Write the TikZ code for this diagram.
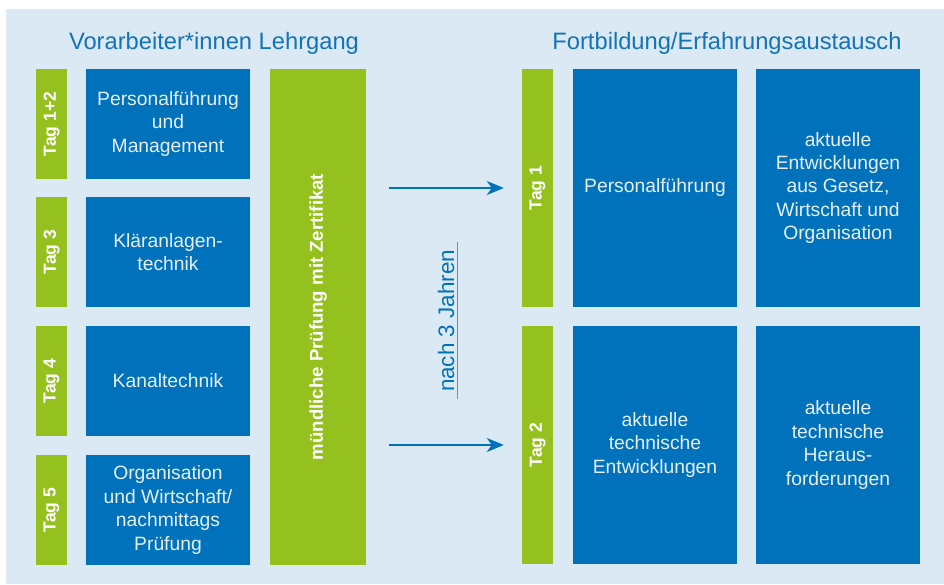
\documentclass[tikz,border=0pt]{standalone}
\usepackage{fontspec}
\setmainfont{Liberation Sans}
\usepackage{graphicx}
\usepackage{xcolor}
\usepackage{tikz}
\usetikzlibrary{arrows.meta}
\definecolor{panel}{HTML}{DAE9F4}
\definecolor{boxblue}{HTML}{0072BB}
\definecolor{daygreen}{HTML}{95C11F}
\definecolor{boxtext}{HTML}{E6EFF8}
\definecolor{headblue}{HTML}{1273B8}
\tikzset{
  tagbar/.style={fill=daygreen, text=white, inner sep=0pt, minimum width=31pt, font=\fontsize{17.5}{20}\selectfont\bfseries},
  topic/.style={fill=boxblue, text=boxtext, inner sep=0pt, minimum width=164pt, align=center, font=\fontsize{19.3}{23.4}\selectfont},
  exam/.style={fill=daygreen, text=white, inner sep=0pt, minimum width=96pt, minimum height=496pt, font=\fontsize{18.6}{21}\selectfont\bfseries},
  head/.style={text=headblue, anchor=base, font=\fontsize{23.7}{28}\selectfont},
  arr/.style={draw=boxblue, line width=1.6pt, -{Stealth[length=17pt,width=14pt,inset=5pt]}},
  jline/.style={draw=boxblue!70, line width=0.9pt},
  jlbl/.style={text=boxblue, inner sep=0pt, font=\fontsize{22.4}{25}\selectfont}
}
\begin{document}
\begin{tikzpicture}[x=1pt, y=-1pt]
  \useasboundingbox (0,0) rectangle (944,584);
  \fill[panel] (6,9) rectangle (944,584);

  % headings
  \node[head] (lhead) at (214,49) {Vorarbeiter*innen Lehrgang};
  \node[head] (rhead) at (727,49) {Fortbildung/Erfahrungsaustausch};

  % Lehrgang
  \node[tagbar, minimum height=110pt] (t12) at (51.5,124) {\rotatebox{90}{Tag 1+2}};
  \node[tagbar, minimum height=110pt] (t3) at (51.5,252) {\rotatebox{90}{Tag 3}};
  \node[tagbar, minimum height=110pt] (t4) at (51.5,381) {\rotatebox{90}{Tag 4}};
  \node[tagbar, minimum height=110pt] (t5) at (51.5,510) {\rotatebox{90}{Tag 5}};

  \node[topic, minimum height=110pt] (pm) at (168,124) {Personalführung\\und\\Management};
  \node[topic, minimum height=110pt] (ka) at (168,252) {Kläranlagen-\\technik};
  \node[topic, minimum height=110pt] (kt) at (168,381) {Kanaltechnik};
  \node[topic, minimum height=110pt] (ow) at (168,510) {Organisation\\und Wirtschaft/\\nachmittags\\Prüfung};

  \node[exam] (pruef) at (318,317) {\rotatebox{90}{mündliche Prüfung mit Zertifikat}};

  % Fortbildung
  \node[tagbar, minimum height=238pt] (rt1) at (537.5,188) {\rotatebox{90}{Tag 1}};
  \node[tagbar, minimum height=238pt] (rt2) at (537.5,445) {\rotatebox{90}{Tag 2}};

  \node[topic, minimum height=238pt] (pf) at (655,188) {Personalführung};
  \node[topic, minimum height=238pt] (ge) at (838,188) {aktuelle\\Entwicklungen\\aus Gesetz,\\Wirtschaft und\\Organisation};
  \node[topic, minimum height=238pt] (te) at (655,445) {aktuelle\\technische\\Entwicklungen};
  \node[topic, minimum height=238pt] (th) at (838,445) {aktuelle\\technische\\Heraus-\\forderungen};

  % nach 3 Jahren
  \draw[arr, shorten <=23pt, shorten >=18pt] (pruef.east |- rt1.west) -- (rt1.west);
  \draw[arr, shorten <=23pt, shorten >=18pt] (pruef.east |- rt2.west) -- (rt2.west);
  \node[jlbl] (jahre) at (446,321) {\rotatebox{90}{nach 3 Jahren}};
  \draw[jline] (457,242) -- (457,399);
\end{tikzpicture}
\end{document}
